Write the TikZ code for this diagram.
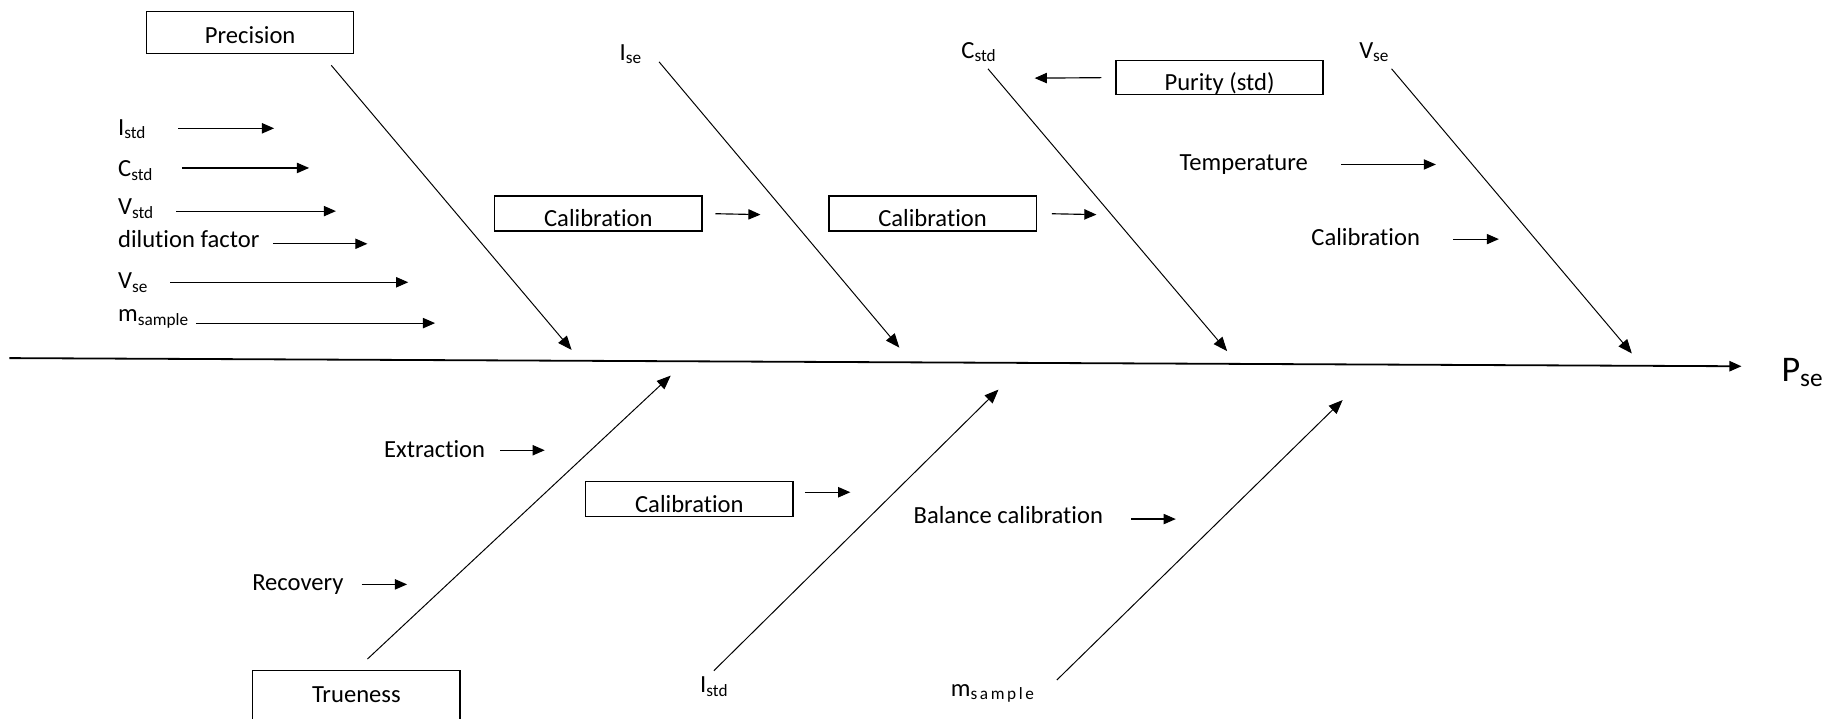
\documentclass[tikz,border=0pt]{standalone}
\usepackage{fontspec}
\setmainfont{Carlito}[Ligatures=NoCommon]
\usepackage{tikz}
\usetikzlibrary{arrows.meta}

\newcommand{\sub}[1]{\textsubscript{#1}}

\begin{document}
\begin{tikzpicture}[x=0.025cm, y=-0.025cm,
  every node/.style={font=\fontsize{15}{18}\selectfont, inner sep=0pt},
  lbl/.style={anchor=west, text height=9.7pt, text depth=0pt},
  box/.style={draw, line width=0.8pt, minimum width=4.44cm, text depth=0pt},
  arr/.style={-{Triangle[length=0.26cm, width=0.22cm]}, line width=0.7pt},
  bone/.style={-{Triangle[length=0.3cm, width=0.24cm]}, line width=0.6pt}]

\useasboundingbox (0,0) rectangle (1568,616);
\clip (0,0) rectangle (1568,616);

% Boxes
\node[box, minimum height=0.9cm, text height=12.8pt] (prec) at (214.5,28) {Precision};
\node[box, minimum height=0.75cm, text height=16.4pt] (cal1) at (513,183) {Calibration};
\node[box, minimum height=0.75cm, text height=16.4pt] (cal2) at (799.5,183) {Calibration};
\node[box, minimum height=0.725cm, text height=15.5pt] (purity) at (1045.5,66.5) {Purity (std)};
\node[box, minimum height=0.75cm, text height=16.4pt] (cal3) at (591,428) {Calibration};
\node[box, minimum height=1.25cm, text height=3pt] (true) at (305.5,600) {Trueness};

% Left group: inputs of Precision
\node[lbl] (istd1) at (101,109) {I\sub{std}};
\node[lbl] (cstd1) at (101,144.5) {C\sub{std}};
\node[lbl] (vstd1) at (101,177) {V\sub{std}};
\node[lbl] (dil) at (101,205) {dilution factor};
\node[lbl] (vse1) at (101,240.5) {V\sub{se}};
\node[lbl] (msam1) at (101,269) {m\sub{sample}};

% Top labels of the bones
\node[lbl] (ise) at (531,45) {I\sub{se}};
\node[lbl] (cstd2) at (824,43) {C\sub{std}};
\node[lbl] (vse2) at (1165,43) {V\sub{se}};
\node[lbl] (temp) at (1011,139) {Temperature};
\node[lbl] (cal4) at (1124,204) {Calibration};

% Bottom labels
\node[lbl] (extr) at (329,385) {Extraction};
\node[lbl] (rec) at (216,499) {Recovery};
\node[lbl] (bal) at (783,442) {Balance calibration};
\node[lbl] (istd2) at (600,587) {I\sub{std}};
\node[lbl] (msam2) at (815,590) {m\sub{\addfontfeature{LetterSpace=15}sample}};

% Result
\node[lbl, font=\fontsize{22}{26}\selectfont, text height=14.3pt] (pse) at (1527,317) {P\sub{se}};

% Ends of the arrows
\coordinate (spine-a) at (8,307);   \coordinate (spine-b) at (1493,314);
\coordinate (prec-a) at (284,56);   \coordinate (prec-b) at (490,300);
\coordinate (ise-a) at (565,53);    \coordinate (ise-b) at (771,298);
\coordinate (cstd2-a) at (847,59);  \coordinate (cstd2-b) at (1052,301);
\coordinate (vse2-a) at (1193,59);  \coordinate (vse2-b) at (1399,303);
\coordinate (true-a) at (315,565);  \coordinate (true-b) at (575,322);
\coordinate (istd2-a) at (612,575); \coordinate (istd2-b) at (856,334);
\coordinate (msam2-a) at (906,583); \coordinate (msam2-b) at (1151,343);

\coordinate (istd1-a) at (153,110); \coordinate (istd1-b) at (235,110);
\coordinate (cstd1-a) at (156,144); \coordinate (cstd1-b) at (265,144);
\coordinate (vstd1-a) at (151,181); \coordinate (vstd1-b) at (288,181);
\coordinate (dil-a) at (234,209);   \coordinate (dil-b) at (315,209);
\coordinate (vse1-a) at (146,242);  \coordinate (vse1-b) at (350,242);
\coordinate (msam1-a) at (168,277); \coordinate (msam1-b) at (373,277);
\coordinate (cal1-b) at (652,184);
\coordinate (cal2-b) at (940,184);
\coordinate (purity-b) at (887,67);
\coordinate (temp-a) at (1150,141); \coordinate (temp-b) at (1231,141);
\coordinate (cal4-a) at (1246,205); \coordinate (cal4-b) at (1285,205);
\coordinate (extr-a) at (429,386);  \coordinate (extr-b) at (467,386);
\coordinate (cal3-a) at (690,422);  \coordinate (cal3-b) at (729,422);
\coordinate (rec-a) at (310,501);   \coordinate (rec-b) at (349,501);
\coordinate (bal-a) at (970,445);   \coordinate (bal-b) at (1008,445);

% Spine and bones
\draw[arr, line width=1.1pt] (spine-a) -- (spine-b);
\draw[bone] (prec-a) -- (prec-b);
\draw[bone] (ise-a) -- (ise-b);
\draw[bone] (cstd2-a) -- (cstd2-b);
\draw[bone] (vse2-a) -- (vse2-b);
\draw[bone] (true-a) -- (true-b);
\draw[bone] (istd2-a) -- (istd2-b);
\draw[bone] (msam2-a) -- (msam2-b);

% Small arrows
\draw[arr] (istd1-a) -- (istd1-b);
\draw[arr] (cstd1-a) -- (cstd1-b);
\draw[arr] (vstd1-a) -- (vstd1-b);
\draw[arr] (dil-a) -- (dil-b);
\draw[arr] (vse1-a) -- (vse1-b);
\draw[arr] (msam1-a) -- (msam1-b);
\draw[arr, shorten <=0.275cm] (cal1.east) -- (cal1-b);
\draw[arr, shorten <=0.32cm] (cal2.east) -- (cal2-b);
\draw[arr, shorten <=0.3cm] (purity.west) -- (purity-b);
\draw[arr] (temp-a) -- (temp-b);
\draw[arr] (cal4-a) -- (cal4-b);
\draw[arr] (extr-a) -- (extr-b);
\draw[arr] (cal3-a) -- (cal3-b);
\draw[arr] (rec-a) -- (rec-b);
\draw[arr] (bal-a) -- (bal-b);

\end{tikzpicture}
\end{document}
